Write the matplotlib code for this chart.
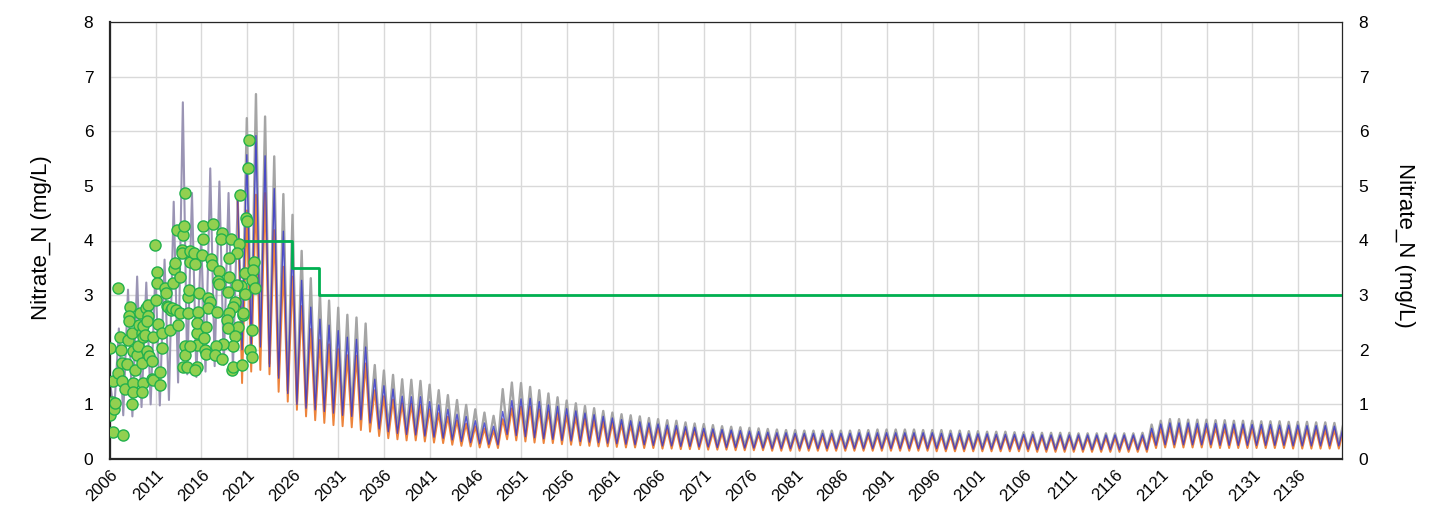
import numpy as np
import matplotlib
matplotlib.use("Agg")
import matplotlib.pyplot as plt

plt.rcParams['font.family'] = ['Liberation Sans', 'DejaVu Sans']

# ---------------- data ----------------
# calibration run (annual trough / peak), 2006-2019
calib_years = list(range(2006, 2020))
calib_start = 1.40
calib_troughs = [0.85, 0.80, 0.78, 0.95, 1.00, 0.98, 1.08, 1.40, 1.55, 1.50, 1.60, 1.70, 1.72, 1.65]
calib_peaks = [2.39, 3.10, 3.34, 3.23, 3.46, 3.65, 4.71, 6.53, 4.87, 4.05, 5.32, 5.08, 4.87, 4.74]

# scenario runs 2020-2140
scen_years = list(range(2020, 2141))
gray_peaks = [6.24, 6.68, 6.27, 5.54, 4.85, 4.47, 3.81, 3.31, 3.03, 2.90, 2.77, 2.64, 2.59, 2.48,
              1.72, 1.62, 1.54, 1.46, 1.45, 1.43, 1.36, 1.26, 1.17, 1.08, 0.99, 0.91, 0.85, 0.79,
              1.28, 1.40, 1.39, 1.32, 1.26, 1.20, 1.13, 1.07, 1.02, 0.97, 0.93, 0.88, 0.85, 0.82,
              0.80, 0.78, 0.75, 0.73, 0.71, 0.70, 0.67, 0.65, 0.64, 0.62, 0.60, 0.59, 0.58, 0.57,
              0.56, 0.55, 0.54, 0.53, 0.53, 0.52, 0.52, 0.52, 0.52, 0.52, 0.52, 0.53, 0.53, 0.54,
              0.54, 0.54, 0.54, 0.54, 0.53, 0.53, 0.53, 0.52, 0.52, 0.51, 0.51, 0.50, 0.50, 0.50,
              0.49, 0.49, 0.49, 0.48, 0.48, 0.48, 0.48, 0.47, 0.47, 0.47, 0.47, 0.47, 0.47, 0.47,
              0.48, 0.63, 0.70, 0.73, 0.73, 0.72, 0.72, 0.72, 0.71, 0.71, 0.70, 0.70, 0.70, 0.69,
              0.69, 0.69, 0.68, 0.68, 0.68, 0.67, 0.67, 0.66, 0.66]
gray_troughs = [2.05, 2.08, 2.10, 1.75, 1.53, 1.25, 1.05, 0.97, 0.94, 0.91, 0.88, 0.84, 0.82, 0.76,
                0.70, 0.59, 0.54, 0.51, 0.49, 0.48, 0.46, 0.44, 0.41, 0.38, 0.35, 0.33, 0.31, 0.30,
                0.29, 0.50, 0.48, 0.46, 0.44, 0.42, 0.40, 0.38, 0.37, 0.35, 0.34, 0.33, 0.32, 0.31,
                0.30, 0.29, 0.28, 0.28, 0.27, 0.26, 0.26, 0.25, 0.25, 0.24, 0.24, 0.23, 0.23, 0.23,
                0.22, 0.22, 0.22, 0.22, 0.21, 0.21, 0.21, 0.21, 0.21, 0.21, 0.21, 0.21, 0.21, 0.21,
                0.21, 0.21, 0.21, 0.21, 0.21, 0.21, 0.21, 0.20, 0.20, 0.20, 0.20, 0.20, 0.20, 0.20,
                0.20, 0.20, 0.20, 0.19, 0.19, 0.19, 0.19, 0.19, 0.19, 0.19, 0.19, 0.19, 0.19, 0.19,
                0.19, 0.19, 0.29, 0.30, 0.30, 0.30, 0.30, 0.30, 0.30, 0.29, 0.29, 0.29, 0.29, 0.29,
                0.29, 0.29, 0.29, 0.28, 0.28, 0.28, 0.28, 0.28, 0.28]
blue_peaks = [5.57, 5.92, 5.55, 4.95, 4.17, 3.93, 3.27, 2.78, 2.56, 2.45, 2.35, 2.23, 2.19, 2.05,
              1.46, 1.34, 1.28, 1.15, 1.14, 1.14, 1.05, 0.99, 0.91, 0.82, 0.78, 0.70, 0.66, 0.60,
              0.87, 1.07, 1.10, 1.11, 1.05, 0.99, 0.96, 0.92, 0.88, 0.84, 0.81, 0.78, 0.75, 0.72,
              0.70, 0.68, 0.66, 0.64, 0.62, 0.61, 0.59, 0.58, 0.56, 0.55, 0.54, 0.53, 0.52, 0.51,
              0.50, 0.49, 0.48, 0.48, 0.47, 0.47, 0.47, 0.47, 0.47, 0.47, 0.47, 0.48, 0.48, 0.48,
              0.48, 0.48, 0.48, 0.48, 0.48, 0.48, 0.47, 0.47, 0.47, 0.46, 0.46, 0.46, 0.45, 0.45,
              0.45, 0.45, 0.45, 0.44, 0.44, 0.44, 0.44, 0.44, 0.44, 0.44, 0.44, 0.44, 0.44, 0.44,
              0.44, 0.56, 0.64, 0.66, 0.66, 0.66, 0.65, 0.65, 0.65, 0.64, 0.64, 0.64, 0.63, 0.63,
              0.63, 0.62, 0.62, 0.62, 0.61, 0.61, 0.61, 0.60, 0.60]
blue_troughs = [2.00, 2.02, 2.05, 1.69, 1.48, 1.20, 1.00, 0.93, 0.90, 0.87, 0.84, 0.80, 0.78, 0.72,
                0.66, 0.55, 0.50, 0.47, 0.45, 0.44, 0.42, 0.40, 0.38, 0.35, 0.32, 0.30, 0.28, 0.27,
                0.26, 0.45, 0.43, 0.41, 0.39, 0.37, 0.36, 0.34, 0.33, 0.32, 0.31, 0.30, 0.29, 0.28,
                0.27, 0.26, 0.26, 0.25, 0.24, 0.24, 0.23, 0.23, 0.22, 0.22, 0.21, 0.21, 0.21, 0.20,
                0.20, 0.20, 0.19, 0.19, 0.19, 0.19, 0.19, 0.19, 0.19, 0.19, 0.19, 0.19, 0.19, 0.19,
                0.19, 0.19, 0.19, 0.19, 0.19, 0.19, 0.19, 0.18, 0.18, 0.18, 0.18, 0.18, 0.18, 0.18,
                0.18, 0.18, 0.18, 0.17, 0.17, 0.17, 0.17, 0.17, 0.17, 0.17, 0.17, 0.17, 0.17, 0.17,
                0.17, 0.17, 0.25, 0.26, 0.26, 0.26, 0.26, 0.26, 0.26, 0.25, 0.25, 0.25, 0.25, 0.25,
                0.25, 0.25, 0.25, 0.24, 0.24, 0.24, 0.24, 0.24, 0.24]
orange_peaks = [4.55, 4.84, 4.87, 4.19, 3.52, 3.34, 2.80, 2.38, 2.18, 2.10, 2.01, 1.90, 1.89, 1.75,
                1.26, 1.15, 1.09, 1.02, 1.01, 0.99, 0.91, 0.84, 0.78, 0.71, 0.65, 0.60, 0.56, 0.52,
                0.73, 0.93, 0.96, 0.96, 0.91, 0.87, 0.84, 0.80, 0.77, 0.74, 0.71, 0.68, 0.66, 0.64,
                0.62, 0.60, 0.58, 0.57, 0.55, 0.54, 0.53, 0.52, 0.50, 0.49, 0.48, 0.47, 0.46, 0.46,
                0.45, 0.44, 0.44, 0.43, 0.43, 0.43, 0.42, 0.42, 0.42, 0.42, 0.42, 0.43, 0.43, 0.43,
                0.43, 0.43, 0.43, 0.43, 0.43, 0.43, 0.42, 0.42, 0.42, 0.42, 0.41, 0.41, 0.41, 0.41,
                0.40, 0.40, 0.40, 0.40, 0.40, 0.40, 0.40, 0.40, 0.39, 0.39, 0.39, 0.39, 0.39, 0.39,
                0.39, 0.48, 0.56, 0.58, 0.58, 0.58, 0.57, 0.57, 0.57, 0.56, 0.56, 0.56, 0.56, 0.55,
                0.55, 0.55, 0.55, 0.54, 0.54, 0.54, 0.53, 0.53, 0.53]
orange_troughs = [1.39, 1.60, 1.63, 1.55, 1.23, 1.05, 0.90, 0.78, 0.71, 0.66, 0.62, 0.60, 0.58, 0.53,
                  0.50, 0.42, 0.38, 0.36, 0.34, 0.34, 0.32, 0.30, 0.29, 0.26, 0.24, 0.23, 0.21, 0.21,
                  0.20, 0.36, 0.34, 0.32, 0.30, 0.29, 0.29, 0.27, 0.26, 0.25, 0.24, 0.23, 0.23, 0.22,
                  0.21, 0.21, 0.20, 0.20, 0.19, 0.19, 0.18, 0.18, 0.18, 0.17, 0.17, 0.17, 0.16, 0.16,
                  0.16, 0.16, 0.15, 0.15, 0.15, 0.15, 0.15, 0.15, 0.15, 0.15, 0.15, 0.15, 0.15, 0.15,
                  0.15, 0.15, 0.15, 0.15, 0.15, 0.15, 0.14, 0.14, 0.14, 0.14, 0.14, 0.14, 0.14, 0.14,
                  0.14, 0.14, 0.14, 0.13, 0.13, 0.13, 0.13, 0.13, 0.13, 0.13, 0.13, 0.13, 0.13, 0.13,
                  0.13, 0.13, 0.20, 0.21, 0.21, 0.21, 0.21, 0.21, 0.21, 0.20, 0.20, 0.20, 0.20, 0.20,
                  0.20, 0.20, 0.20, 0.19, 0.19, 0.19, 0.19, 0.19, 0.19]

# target / standard step line
step_years = [2020.2, 2025.88, 2028.87, 2140.8]
step_vals = [4.0, 3.5, 3.0, 3.0]

# observations
obs_years = [2006.00, 2006.36, 2006.18, 2006.00, 2006.44, 2006.55, 2006.36, 2007.39, 2006.91, 2007.09,
             2007.17, 2007.28, 2006.91, 2007.28, 2007.64, 2007.82, 2008.00, 2008.19, 2008.12, 2008.12,
             2008.37, 2008.55, 2008.74, 2008.55, 2008.48, 2008.44, 2008.92, 2009.10, 2009.28, 2009.21,
             2009.46, 2009.65, 2009.46, 2009.57, 2009.46, 2009.65, 2009.94, 2010.19, 2010.19, 2010.01,
             2009.83, 2010.01, 2010.30, 2010.56, 2010.74, 2010.56, 2010.74, 2010.92, 2011.18, 2011.11,
             2011.03, 2011.29, 2011.65, 2011.65, 2011.47, 2011.47, 2012.02, 2012.13, 2012.20, 2012.38,
             2012.56, 2012.64, 2012.75, 2012.93, 2013.00, 2013.11, 2013.29, 2013.22, 2013.48, 2013.66,
             2013.66, 2013.84, 2013.84, 2013.95, 2014.21, 2014.10, 2014.02, 2014.21, 2014.21, 2014.46,
             2014.57, 2014.57, 2014.68, 2014.75, 2014.75, 2015.48, 2015.48,
             2021.24, 2021.13, 2020.22, 2020.88, 2021.02, 2016.21, 2017.23, 2016.14, 2018.22, 2018.11,
             2019.20, 2020.15, 2019.86, 2019.05, 2015.19, 2016.03, 2015.30, 2017.01, 2017.12, 2017.96,
             2019.05, 2017.85, 2017.96, 2020.77, 2021.75, 2021.68, 2021.50, 2021.86, 2020.30, 2019.86,
             2020.77, 2018.87, 2019.68, 2019.42, 2019.05, 2015.77, 2016.76, 2016.94, 2016.76, 2015.66,
             2017.67, 2015.48, 2016.50, 2018.76, 2020.59, 2020.04, 2018.95, 2019.68, 2019.49, 2021.50,
             2016.28, 2016.39, 2016.50, 2018.40, 2017.60, 2017.49, 2018.22, 2014.75, 2015.48, 2015.30,
             2019.31, 2019.49, 2020.40, 2021.32, 2021.50, 2020.50]
obs_vals = [2.03, 1.43, 1.05, 0.81, 0.91, 1.03, 0.50, 0.44, 3.13, 2.24,
            2.00, 1.76, 1.57, 1.42, 1.29, 1.74, 2.18, 2.79, 2.62, 2.52,
            2.31, 1.97, 1.63, 1.39, 1.23, 1.01, 1.91, 2.07, 2.67, 2.45,
            2.30, 2.43, 1.75, 1.39, 1.23, 2.24, 2.76, 2.82, 2.61, 2.52,
            2.27, 1.97, 1.88, 1.80, 2.24, 1.46, 1.45, 3.92, 3.43, 3.22,
            2.91, 2.48, 2.31, 2.04, 1.60, 1.36, 3.13, 3.03, 2.80, 2.79,
            2.36, 2.73, 2.76, 3.22, 3.47, 3.58, 4.19, 2.73, 2.45, 2.67,
            3.34, 3.83, 3.77, 4.10, 4.87, 4.26, 1.69, 2.06, 1.91, 1.69,
            2.67, 2.97, 3.10, 3.61, 3.80, 2.30, 2.09,
            5.84, 5.32, 4.83, 4.41, 4.36, 4.26, 4.30, 4.02, 4.14, 4.02,
            4.02, 3.94, 3.77, 3.68, 3.77, 3.74, 3.57, 3.66, 3.55, 3.45,
            3.34, 3.25, 3.20, 3.41, 3.61, 3.46, 3.28, 3.13, 3.17, 3.19,
            3.02, 3.06, 2.88, 2.79, 2.67, 3.03, 2.94, 2.88, 2.76, 2.70,
            2.70, 2.49, 2.41, 2.55, 2.64, 2.42, 2.39, 2.25, 2.07, 2.36,
            2.21, 2.00, 1.93, 2.10, 2.06, 1.91, 1.83, 2.06, 1.69, 1.63,
            1.63, 1.69, 1.72, 2.00, 1.86, 2.67]

xtick_years = list(range(2006, 2137, 5))


def seasonal(years, troughs, peaks, x0, y0):
    xs, ys = [x0], [y0]
    for yr, t, p in zip(years, troughs, peaks):
        xs += [yr + 0.45, yr + 0.97]
        ys += [t, p]
    return np.array(xs), np.array(ys)


# ---------------- figure ----------------
fig = plt.figure(figsize=(14.41, 5.08), dpi=100)
ax = fig.add_axes([110 / 1441, 1 - 459 / 508, (1342 - 110) / 1441, (459 - 22) / 508])

cx, cy = seasonal(calib_years, calib_troughs, calib_peaks, 2006.0, calib_start)
x_last, y_last = cx[-1], cy[-1]
gx, gy = seasonal(scen_years, gray_troughs, gray_peaks, x_last, y_last)
bx, by = seasonal(scen_years, blue_troughs, blue_peaks, x_last, y_last)
ox, oy = seasonal(scen_years, orange_troughs, orange_peaks, x_last, y_last)

ax.plot(cx, cy, color='#9a94b4', lw=1.5, zorder=2)
ax.plot(gx, gy, color='#a5a5a5', lw=1.7, zorder=2)
ax.plot(ox, oy, color='#ed7d31', lw=1.4, zorder=3, alpha=0.95)
ax.plot(bx, by, color='#3333cc', lw=1.0, zorder=4, alpha=0.8)
ax.plot(step_years, step_vals, drawstyle='steps-post', color='#00b050', lw=2.0, zorder=5)
ax.scatter(obs_years, obs_vals, s=64, facecolor='#92d050', edgecolor='#22b14c',
           linewidth=1.0, zorder=6)

ax.set_xlim(2006, 2140.8)
ax.set_ylim(0, 8)
ax.set_xticks(xtick_years)
ax.set_xticklabels([str(y) for y in xtick_years], rotation=45, ha='right',
                   rotation_mode='anchor', fontsize=12)
ax.set_yticks(range(0, 9))
ax.tick_params(axis='both', length=0, colors='black')
ax.tick_params(axis='y', pad=12, labelsize=12.5)
ax.tick_params(axis='x', pad=6)
ax.grid(True, color='#d9d9d9', lw=1.0, zorder=0)
ax.set_axisbelow(True)
for side in ['left', 'bottom']:
    ax.spines[side].set_linewidth(1.6)
    ax.spines[side].set_color('#262626')
for side in ['top', 'right']:
    ax.spines[side].set_linewidth(0.9)
    ax.spines[side].set_color('#262626')

ax2 = ax.twinx()
ax2.set_ylim(0, 8)
ax2.set_yticks(range(0, 9))
ax2.tick_params(axis='y', length=0, labelsize=12.5, pad=12)
for s in ax2.spines.values():
    s.set_visible(False)

fig.text(42 / 1441, 1 - 238 / 508, 'Nitrate_N (mg/L)', rotation=90, fontsize=16,
         ha='center', va='center')
fig.text(1404 / 1441, 1 - 245 / 508, 'Nitrate_N (mg/L)', rotation=270, fontsize=16,
         ha='center', va='center')

fig.savefig('out.png', dpi=100)
